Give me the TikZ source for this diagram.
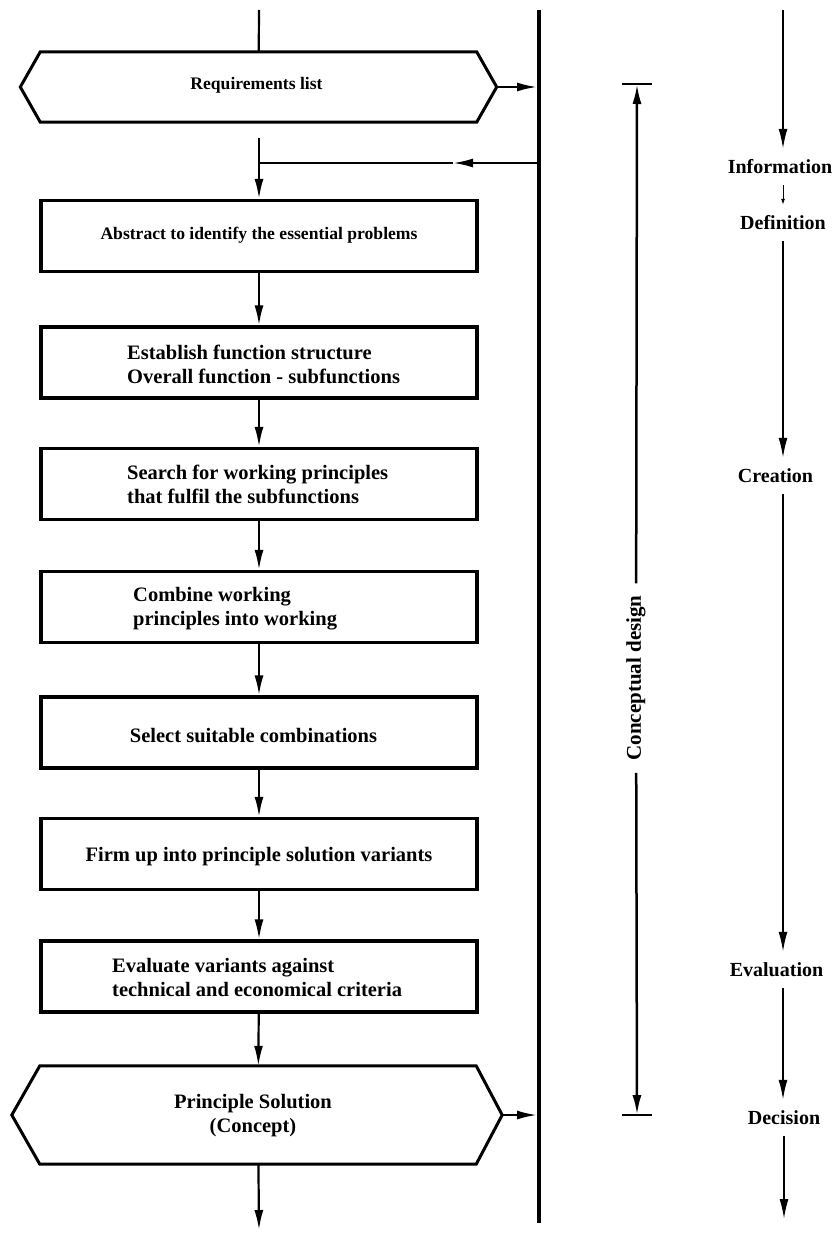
\documentclass[tikz,border=0pt]{standalone}
\usepackage{fontspec}
\setmainfont{Liberation Serif}
\usetikzlibrary{arrows.meta,calc}
\begin{document}
\begin{tikzpicture}[x=1pt,y=-1pt,
  box/.style={draw, line width=3.3pt, minimum width=436pt, minimum height=71pt, inner sep=0pt},
  hexcore/.style={inner sep=0pt, minimum width=436pt},
  hexline/.style={line width=3pt, line join=miter},
  boxtext/.style={font=\bfseries\fontsize{20.5}{24}\selectfont, align=left, inner sep=0pt},
  smalltext/.style={font=\bfseries\fontsize{17.6}{21}\selectfont, inner sep=0pt},
  conn/.style={line width=2.2pt},
  flow/.style={conn, -{Latex[length=20pt,width=9pt]}},
  bus/.style={line width=4pt},
  phase/.style={font=\bfseries\fontsize{20}{24}\selectfont, inner sep=0pt, minimum height=36pt},
  phaseflow/.style={line width=1.8pt, -{Latex[length=20pt,width=9pt]}},
  phasestep/.style={line width=1pt, -{Latex[length=6pt,width=4pt]}},
  brline/.style={line width=2.5pt},
  brflow/.style={line width=2.5pt, -{Latex[length=20pt,width=9pt]}},
  cdtext/.style={font=\bfseries\fontsize{21}{24}\selectfont, inner xsep=12pt, inner ysep=2pt}
]
\useasboundingbox (0,0) rectangle (833,1234);

% ---- vertical bus on the right of the process steps ----
\coordinate (busT) at (539,10);
\coordinate (busB) at (539,1223);
\draw[bus] (busT) -- (busB);

% ---- requirements list (hexagon) ----
\node[hexcore, minimum height=70pt] (req) at (258.5,87) {};
\coordinate (reqL) at ($(req.west)+(-20,0)$);
\coordinate (reqR) at ($(req.east)+(20,0)$);
\draw[hexline] (req.north west) -- (req.north east) -- (reqR) -- (req.south east)
  -- (req.south west) -- (reqL) -- cycle;
\node[smalltext] (reqtxt) at (256.5,85) {Requirements list};

\coordinate (top) at (259,10);
\draw[conn] (top) -- (req);
\draw[flow, shorten >=2pt] (reqR) -- (reqR -| busT);

% ---- process steps ----
\node[box] (b1) at (259,236) {};
\node[smalltext] (t1) at (259,235) {Abstract to identify the essential problems};

\node[box] (b2) at (259,362.5) {};
\node[boxtext, anchor=west] (t2) at (127,364) {Establish function structure\\Overall function - subfunctions};

\node[box] (b3) at (259,484) {};
\node[boxtext, anchor=west] (t3) at (127,484) {Search for working principles\\that fulfil the subfunctions};

\node[box] (b4) at (259,607) {};
\node[boxtext, anchor=west] (t4) at (133,609) {Combine working\\principles into working};

\node[box] (b5) at (259,732.5) {};
\node[boxtext] (t5) at (253.5,736) {Select suitable combinations};

\node[box] (b6) at (259,854) {};
\node[boxtext] (t6) at (259,857) {Firm up into principle solution variants};

\node[box] (b7) at (259,976.5) {};
\node[boxtext, anchor=west] (t7) at (112,977) {Evaluate variants against\\technical and economical criteria};

% ---- principle solution (hexagon) ----
\node[hexcore, minimum height=98pt] (sol) at (258,1115) {};
\coordinate (solL) at ($(sol.west)+(-28,0)$);
\coordinate (solR) at ($(sol.east)+(26,0)$);
\draw[hexline] (sol.north west) -- (sol.north east) -- (solR) -- (sol.south east)
  -- (sol.south west) -- (solL) -- cycle;
\node[boxtext, align=center] (soltxt) at (253,1116) {Principle Solution\\(Concept)};

% ---- connectors of the main chain ----
\coordinate (inT) at (259,138);
\coordinate (fbS) at (539,163);
\coordinate (fbM) at (453,163);
\coordinate (fbJ) at (259,163);
\draw[flow] (fbS) -- (fbM);
\draw[conn] (fbM) -- (fbJ);
\draw[flow] (inT) -- (b1);
\draw[flow] (b1) -- (b2);
\draw[flow] (b2) -- (b3);
\draw[flow] (b3) -- (b4);
\draw[flow] (b4) -- (b5);
\draw[flow] (b5) -- (b6);
\draw[flow] (b6) -- (b7);
\draw[flow] (b7) -- (sol);
\draw[flow, shorten >=2pt] (solR) -- (solR -| busT);
\coordinate (outB) at (259,1230);
\draw[flow] (sol) -- (outB);

% ---- conceptual design bracket ----
\coordinate (brT) at (637,84);
\coordinate (brB) at (637,1115);
\draw[brline] ($(brT)+(-15,0)$) -- ($(brT)+(15,0)$);
\draw[brline] ($(brB)+(-15,0)$) -- ($(brB)+(15,0)$);
\node[cdtext, rotate=90] (cd) at (636,678) {Conceptual design};
\draw[brflow] (cd) -- (brT);
\draw[brflow] (cd) -- (brB);

% ---- phases of the solving process ----
\coordinate (rcT) at (783,10);
\node[phase] (info) at (780,167) {Information};
\node[phase] (defi) at (783,223) {Definition};
\node[phase] (crea) at (775.5,476) {Creation};
\node[phase] (eval) at (776.5,970) {Evaluation};
\node[phase] (deci) at (784,1118) {Decision};
\coordinate (rcB) at (784,1219);
\draw[phaseflow] (rcT) -- (rcT |- info.north);
\draw[phasestep] (rcT |- info.south) -- (rcT |- defi.north);
\draw[phaseflow] (rcT |- defi.south) -- (rcT |- crea.north);
\draw[phaseflow] (rcT |- crea.south) -- (rcT |- eval.north);
\draw[phaseflow] (rcT |- eval.south) -- (rcT |- deci.north);
\draw[phaseflow] (rcB |- deci.south) -- (rcB);
\end{tikzpicture}
\end{document}
